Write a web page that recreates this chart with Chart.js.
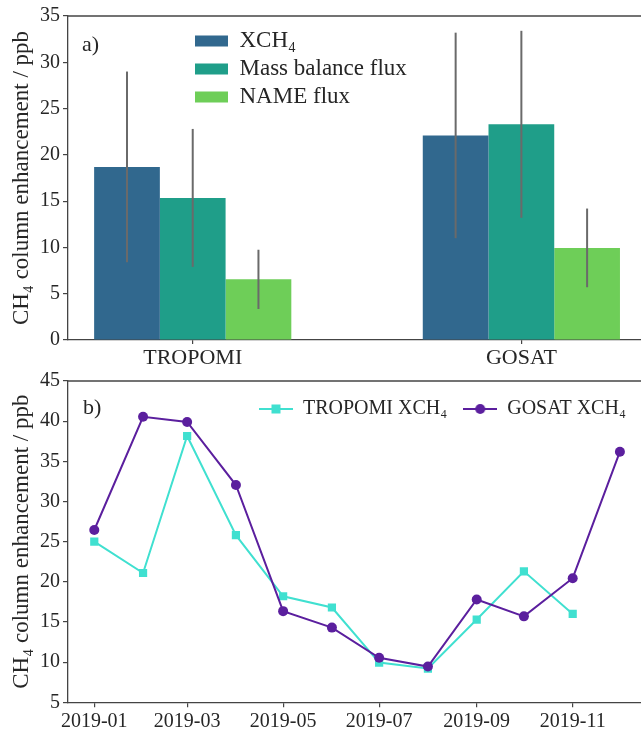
<!DOCTYPE html>
<html>
<head>
<meta charset="utf-8">
<script src="https://cdn.jsdelivr.net/npm/chart.js@4.4.1/dist/chart.umd.min.js"></script>
<style>
html,body{margin:0;padding:0;background:#fff;width:641px;height:732px;overflow:hidden;}
canvas{position:absolute;left:0;}
</style>
</head>
<body>
<canvas id="ca" width="641" height="366" style="top:0px"></canvas>
<canvas id="cb" width="641" height="366" style="top:366px"></canvas>
<script>
// ---------- Panel a) data ----------
const categories = ['TROPOMI', 'GOSAT'];
const xch4 = [18.7, 22.1];
const xch4Low = [8.4, 11.0];
const xch4High = [29.0, 33.2];
const massBalance = [15.35, 23.3];
const massLow = [7.9, 13.2];
const massHigh = [22.8, 33.4];
const nameFlux = [6.55, 9.95];
const nameLow = [3.35, 5.7];
const nameHigh = [9.75, 14.2];
const yTicksA = [0, 5, 10, 15, 20, 25, 30, 35];

// ---------- Panel b) data ----------
const months = ['2019-01','2019-02','2019-03','2019-04','2019-05','2019-06','2019-07','2019-08','2019-09','2019-10','2019-11','2019-12'];
const tropomi = [25.0, 21.1, 38.15, 25.8, 18.2, 16.8, 9.95, 9.2, 15.3, 21.3, 16.0];
const gosat = [26.45, 40.55, 39.9, 32.05, 16.35, 14.3, 10.55, 9.45, 17.8, 15.7, 20.45, 36.2];
const xTickLabelsB = ['2019-01','2019-03','2019-05','2019-07','2019-09','2019-11'];
const yTicksB = [5, 10, 15, 20, 25, 30, 35, 40, 45];

const FONT = "'Liberation Serif', 'DejaVu Serif', serif";
const TXT = '#262626';
const AX = '#444444';

function dayOfYear(m) {
  const mm = parseInt(m.slice(5), 10) - 1;
  return (Date.UTC(2019, mm, 1) - Date.UTC(2019, 0, 1)) / 86400000;
}
const monthDays = months.map(dayOfYear);
const xTickDays = xTickLabelsB.map(dayOfYear);

const errorBars = {
  id: 'errorBars',
  afterDatasetsDraw(chart) {
    const ctx = chart.ctx, y = chart.scales.y;
    chart.data.datasets.forEach((ds, di) => {
      const meta = chart.getDatasetMeta(di);
      meta.data.forEach((bar, i) => {
        const yl = y.getPixelForValue(ds.errorLow[i]);
        const yh = y.getPixelForValue(ds.errorHigh[i]);
        ctx.save();
        ctx.strokeStyle = '#6a6a6a';
        ctx.lineWidth = 2;
        ctx.beginPath();
        ctx.moveTo(bar.x, yl);
        ctx.lineTo(bar.x, yh);
        ctx.stroke();
        ctx.restore();
      });
    });
  }
};

const topFrame = {
  id: 'topFrame',
  afterDraw(chart) {
    const {ctx, chartArea: a} = chart;
    ctx.save();
    ctx.strokeStyle = AX;
    ctx.lineWidth = 1.3;
    ctx.beginPath();
    ctx.moveTo(a.left, a.top);
    ctx.lineTo(a.right, a.top);
    ctx.stroke();
    ctx.restore();
  }
};

function panelLabel(text, x, y) {
  return {
    id: 'panelLabel',
    afterDraw(chart) {
      const ctx = chart.ctx;
      ctx.save();
      ctx.font = '22px ' + FONT;
      ctx.fillStyle = TXT;
      ctx.textBaseline = 'middle';
      ctx.textAlign = 'left';
      ctx.fillText(text, x, y);
      ctx.restore();
    }
  };
}

function legendMover(x, y, horizontal) {
  return {
    id: 'legendMover',
    beforeLayout(chart) {
      if (horizontal && chart.legend) chart.legend.isHorizontal = () => true;
    },
    afterLayout(chart) {
      const l = chart.legend;
      if (!l) return;
      const w = l.width, h = l.height;
      l.left = x; l.top = y; l.right = x + w; l.bottom = y + h;
    }
  };
}

function yAxis(min, max, ticks) {
  return {
    type: 'linear',
    min: min, max: max,
    afterBuildTicks: s => { s.ticks = ticks.map(v => ({value: v})); },
    grid: {drawOnChartArea: false, drawTicks: true, tickLength: 5, color: AX, lineWidth: 1.2},
    border: {display: true, color: AX, width: 1.3},
    ticks: {font: {family: FONT, size: 20}, color: TXT, padding: 3},
    title: {display: true, text: 'CH₄ column enhancement / ppb', font: {family: FONT, size: 23}, color: TXT, padding: {top: 8, bottom: 0}},
    afterFit: s => { s.width = 68; }
  };
}

// ---------- Chart a) ----------
new Chart(document.getElementById('ca'), {
  type: 'bar',
  data: {
    datasets: [
      {label: 'XCH₄', data: xch4.map((v, i) => ({x: i, y: v})), backgroundColor: '#31688e', errorLow: xch4Low, errorHigh: xch4High},
      {label: 'Mass balance flux', data: massBalance.map((v, i) => ({x: i, y: v})), backgroundColor: '#1f9e89', errorLow: massLow, errorHigh: massHigh},
      {label: 'NAME flux', data: nameFlux.map((v, i) => ({x: i, y: v})), backgroundColor: '#6ece58', errorLow: nameLow, errorHigh: nameHigh}
    ]
  },
  options: {
    responsive: false,
    animation: false,
    categoryPercentage: 0.6,
    barPercentage: 1.0,
    layout: {autoPadding: false, padding: {top: 16, left: 0, right: 0, bottom: 0}},
    scales: {
      x: {
        type: 'linear',
        offset: false,
        min: -0.3795, max: 1.364,
        afterBuildTicks: s => { s.ticks = categories.map((c, i) => ({value: i})); },
        grid: {drawOnChartArea: false, drawTicks: true, tickLength: 4, color: AX, lineWidth: 1.2, offset: false},
        border: {display: true, color: AX, width: 1.3},
        ticks: {callback: (v, i) => categories[i], font: {family: FONT, size: 22}, color: TXT, padding: 1, maxRotation: 0, autoSkip: false},
        afterFit: s => { s.height = 26; }
      },
      y: yAxis(0, 35, yTicksA)
    },
    plugins: {
      legend: {
        position: 'chartArea',
        align: 'start',
        fullSize: false,
        labels: {boxWidth: 33, boxHeight: 11, padding: 5, color: TXT, font: {family: FONT, size: 23}}
      },
      tooltip: {enabled: false}
    }
  },
  plugins: [errorBars, topFrame, panelLabel('a)', 82, 45), legendMover(190, 24.5, false)]
});

// ---------- Legend icons for chart b) ----------
function lineIcon(color, shape) {
  const c = document.createElement('canvas');
  c.width = 34; c.height = 12;
  const g = c.getContext('2d');
  g.strokeStyle = color; g.fillStyle = color; g.lineWidth = 2;
  g.beginPath(); g.moveTo(0, 6); g.lineTo(34, 6); g.stroke();
  if (shape === 'rect') { g.fillRect(17 - 4.5, 6 - 4.5, 9, 9); }
  else { g.beginPath(); g.arc(17, 6, 5, 0, Math.PI * 2); g.fill(); }
  return c;
}
const COL_T = '#40e0d0';
const COL_G = '#5b1f9e';
const icons = [lineIcon(COL_T, 'rect'), lineIcon(COL_G, 'circle')];

// ---------- Chart b) ----------
new Chart(document.getElementById('cb'), {
  type: 'line',
  data: {
    datasets: [
      {label: 'TROPOMI XCH₄', data: tropomi.map((v, i) => ({x: monthDays[i], y: v})), borderColor: COL_T, backgroundColor: COL_T,
       borderWidth: 2, pointStyle: 'rect', pointRadius: 5.8, pointBorderWidth: 0, tension: 0, order: 2},
      {label: 'GOSAT XCH₄', data: gosat.map((v, i) => ({x: monthDays[i], y: v})), borderColor: COL_G, backgroundColor: COL_G,
       borderWidth: 2, pointStyle: 'circle', pointRadius: 5, pointBorderWidth: 0, tension: 0, order: 1}
    ]
  },
  options: {
    responsive: false,
    animation: false,
    layout: {autoPadding: false, padding: {top: 13, left: 0, right: 0, bottom: 0}},
    scales: {
      x: {
        type: 'linear',
        min: -16.7, max: 347.4,
        afterBuildTicks: s => { s.ticks = xTickDays.map(v => ({value: v})); },
        grid: {drawOnChartArea: false, drawTicks: true, tickLength: 5, color: AX, lineWidth: 1.2},
        border: {display: true, color: AX, width: 1.3},
        ticks: {callback: (v, i) => xTickLabelsB[i], font: {family: FONT, size: 20}, color: TXT, padding: 2, maxRotation: 0, autoSkip: false},
        afterFit: s => { s.height = 29.7; }
      },
      y: yAxis(5, 45, yTicksB)
    },
    plugins: {
      legend: {
        position: 'chartArea',
        align: 'start',
        fullSize: false,
        labels: {
          usePointStyle: true, pointStyleWidth: 34, boxWidth: 34, boxHeight: 12, padding: 16, color: TXT,
          font: {family: FONT, size: 20},
          sort: (a, b) => a.datasetIndex - b.datasetIndex,
          generateLabels: chart => Chart.defaults.plugins.legend.labels.generateLabels(chart).map(it => {
            it.pointStyle = icons[it.datasetIndex];
            return it;
          })
        }
      },
      tooltip: {enabled: false}
    }
  },
  plugins: [topFrame, panelLabel('b)', 83, 42), legendMover(243, 17, true)]
});
</script>
</body>
</html>
